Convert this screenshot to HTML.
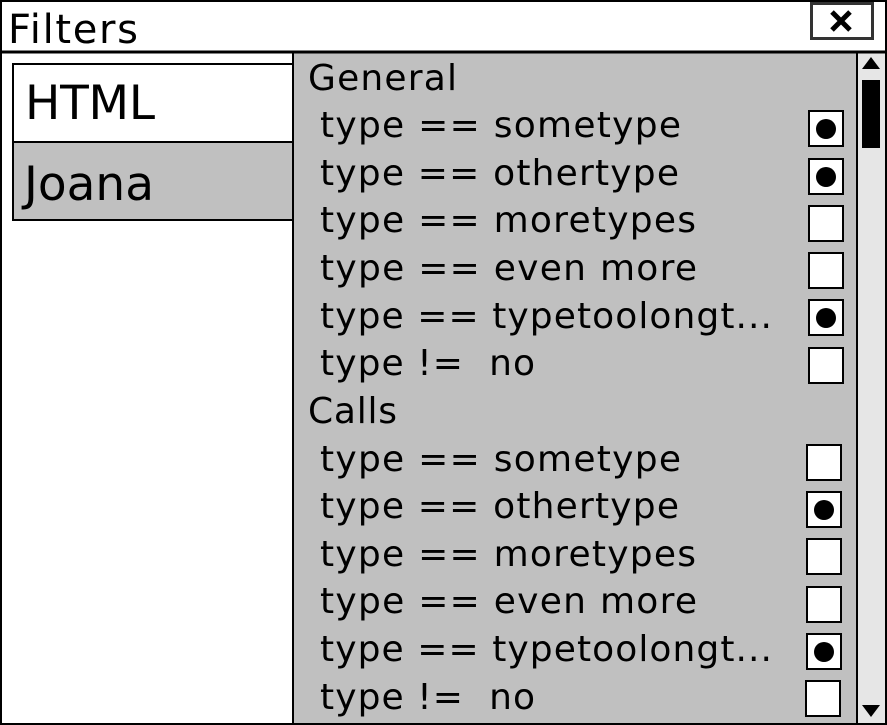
<!DOCTYPE html>
<html><head><style>html,body{margin:0;padding:0;background:#fff}svg{display:block}</style></head>
<body>
<svg width="887" height="725" xmlns="http://www.w3.org/2000/svg" font-family="DejaVu Sans, Liberation Sans, sans-serif">
<rect x="0" y="0" width="887" height="725" fill="#fff"/>
<rect x="293" y="52" width="564" height="673" fill="#c0c0c0"/>
<line x1="293" y1="52" x2="293" y2="725" stroke="#000" stroke-width="2"/>
<rect x="857" y="52" width="30" height="673" fill="#e6e6e6"/>
<line x1="857" y1="52" x2="857" y2="725" stroke="#000" stroke-width="2"/>
<polygon points="871,57 880,69 862,69" fill="#000"/>
<rect x="862" y="80" width="18" height="68" fill="#000"/>
<polygon points="862,705 880,705 871,717" fill="#000"/>
<line x1="0" y1="52" x2="887" y2="52" stroke="#000" stroke-width="3"/>
<text x="8" y="43" font-size="40" textLength="130">Filters</text>
<rect x="811.5" y="3.5" width="61" height="35" fill="#fff" stroke="#333" stroke-width="3"/>
<path d="M832 12 L850 30 M850 12 L832 30" stroke="#000" stroke-width="5"/>
<rect x="13" y="64" width="280" height="78" fill="#fff" stroke="#000" stroke-width="2"/>
<rect x="13" y="142" width="280" height="78" fill="#c0c0c0" stroke="#000" stroke-width="2"/>
<text x="25" y="119" font-size="47" textLength="130">HTML</text>
<text x="24" y="200" font-size="47" textLength="130">Joana</text>
<rect x="1" y="1" width="885" height="723" fill="none" stroke="#000" stroke-width="2"/>
<g font-size="36">
<text x="308" y="90" textLength="149">General</text>
<text x="320" y="137" textLength="361">type == sometype</text>
<text x="320" y="185" textLength="359">type == othertype</text>
<text x="320" y="232" textLength="376">type == moretypes</text>
<text x="320" y="280" textLength="377">type == even more</text>
<text x="320" y="328" textLength="452">type == typetoolongt...</text>
<text x="320" y="375" textLength="215" xml:space="preserve">type !=  no</text>
<text x="308" y="423" textLength="89">Calls</text>
<text x="320" y="471" textLength="361">type == sometype</text>
<text x="320" y="518" textLength="359">type == othertype</text>
<text x="320" y="566" textLength="376">type == moretypes</text>
<text x="320" y="613" textLength="377">type == even more</text>
<text x="320" y="661" textLength="452">type == typetoolongt...</text>
<text x="320" y="709" textLength="215" xml:space="preserve">type !=  no</text>
</g>
<g fill="#fff" stroke="#000" stroke-width="2">
<rect x="809" y="111" width="34" height="35"/>
<rect x="809" y="159" width="34" height="35"/>
<rect x="809" y="206" width="34" height="35"/>
<rect x="809" y="253" width="34" height="35"/>
<rect x="809" y="300" width="34" height="35"/>
<rect x="809" y="348" width="34" height="35"/>
<rect x="807" y="445" width="34" height="35"/>
<rect x="807" y="492" width="34" height="35"/>
<rect x="807" y="539" width="34" height="35"/>
<rect x="807" y="587" width="34" height="35"/>
<rect x="807" y="634" width="34" height="35"/>
<rect x="806" y="681" width="34" height="35"/>
</g>
<g fill="#000">
<circle cx="826" cy="129" r="10"/>
<circle cx="826" cy="177" r="10"/>
<circle cx="826" cy="318" r="10"/>
<circle cx="824" cy="510" r="10"/>
<circle cx="824" cy="652" r="10"/>
</g>
</svg>
</body></html>
